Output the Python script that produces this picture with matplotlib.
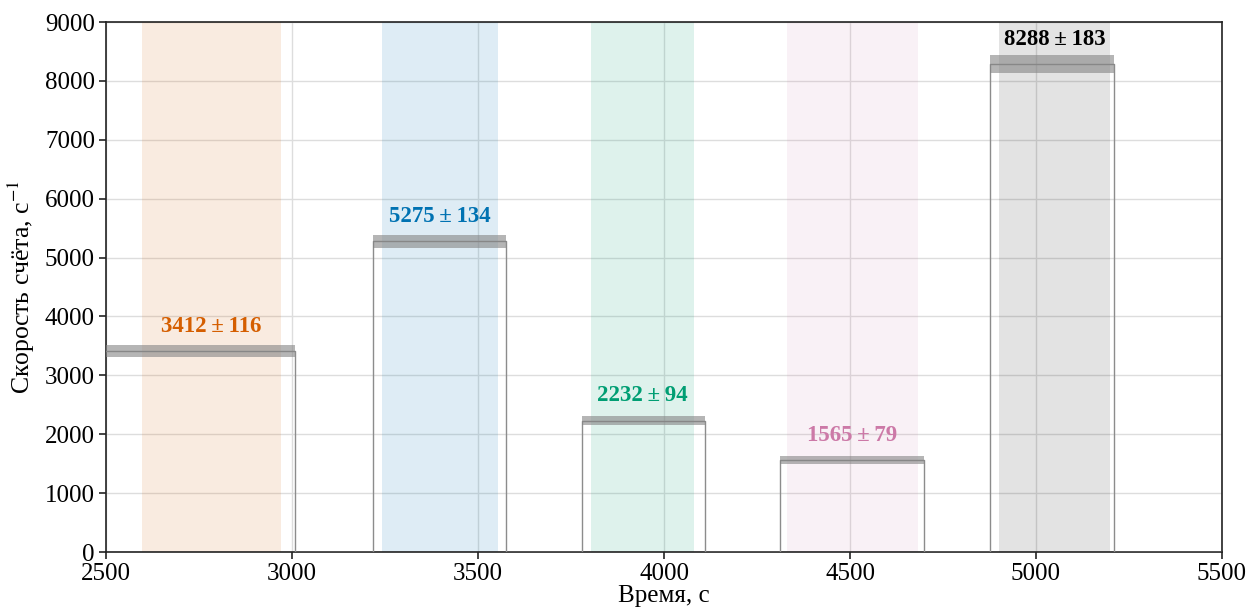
import numpy as np
import matplotlib
matplotlib.use("Agg")
import matplotlib.pyplot as plt

plt.rcParams["font.family"] = ["Liberation Serif", "DejaVu Serif"]
plt.rcParams["mathtext.fontset"] = "stix"

# plateau segments of the count-rate record (s, 1/s)
seg_start = [2450, 3218, 3780, 4312, 4876]
seg_end = [3008, 3575, 4110, 4699, 5210]
levels = [3412, 5275, 2232, 1565, 8288]
sigmas = [116, 134, 94, 79, 183]

# averaging windows (shaded)
win_start = [2597, 3242, 3804, 4331, 4900]
win_end = [2970, 3554, 4081, 4683, 5199]
colors = ["#D55E00", "#0072B2", "#009E73", "#CC79A7", "#000000"]
span_alpha = [0.12, 0.13, 0.13, 0.10, 0.11]

background = 0
t_end = 5500

# step trace: background between plateaus
tx, ty = [], []
for s, e, lv in zip(seg_start, seg_end, levels):
    tx += [s, s, e, e]
    ty += [background, lv, lv, background]
tx.append(t_end)
ty.append(background)

fig, ax = plt.subplots(figsize=(12.5, 6.15), dpi=100)
fig.subplots_adjust(left=0.0848, right=0.9776, top=0.9642, bottom=0.1024)

for ws, we, c, a in zip(win_start, win_end, colors, span_alpha):
    ax.axvspan(ws, we, color=c, alpha=a, lw=0, zorder=1)

ax.plot(tx, ty, color="#8c8c8c", lw=1.0, zorder=3)
# spread of the counts around each plateau
for s, e, lv, sg in zip(seg_start, seg_end, levels, sigmas):
    ax.fill_between([s, e], lv - 0.85 * sg, lv + 0.85 * sg,
                    color="#858585", alpha=0.6, lw=0, zorder=3)

for ws, we, lv, sg, c in zip(win_start, win_end, levels, sigmas, colors):
    ax.text((ws + we) / 2, lv + 240, f"{lv}\u2009±\u2009{sg}", color=c,
            fontsize=16.5, fontweight="bold", ha="center", va="bottom", zorder=4)

ax.set_xlim(2500, 5500)
ax.set_ylim(0, 9000)
ax.set_xticks(np.arange(2500, 5501, 500))
ax.set_yticks(np.arange(0, 9001, 1000))
ax.grid(True, color="#dddddd", lw=1.0, zorder=0)
ax.set_axisbelow(True)
ax.tick_params(labelsize=18, direction="out", length=5, width=1.2, colors="#222222",
               labelcolor="black", pad=3)
for sp in ax.spines.values():
    sp.set_linewidth(1.2)
    sp.set_color("#222222")

ax.set_xlabel("Время, с", fontsize=18, labelpad=0)
ax.set_ylabel("Скорость счёта, с$^{-1}$", fontsize=18.5, labelpad=6)

fig.savefig("out.png", dpi=100)
